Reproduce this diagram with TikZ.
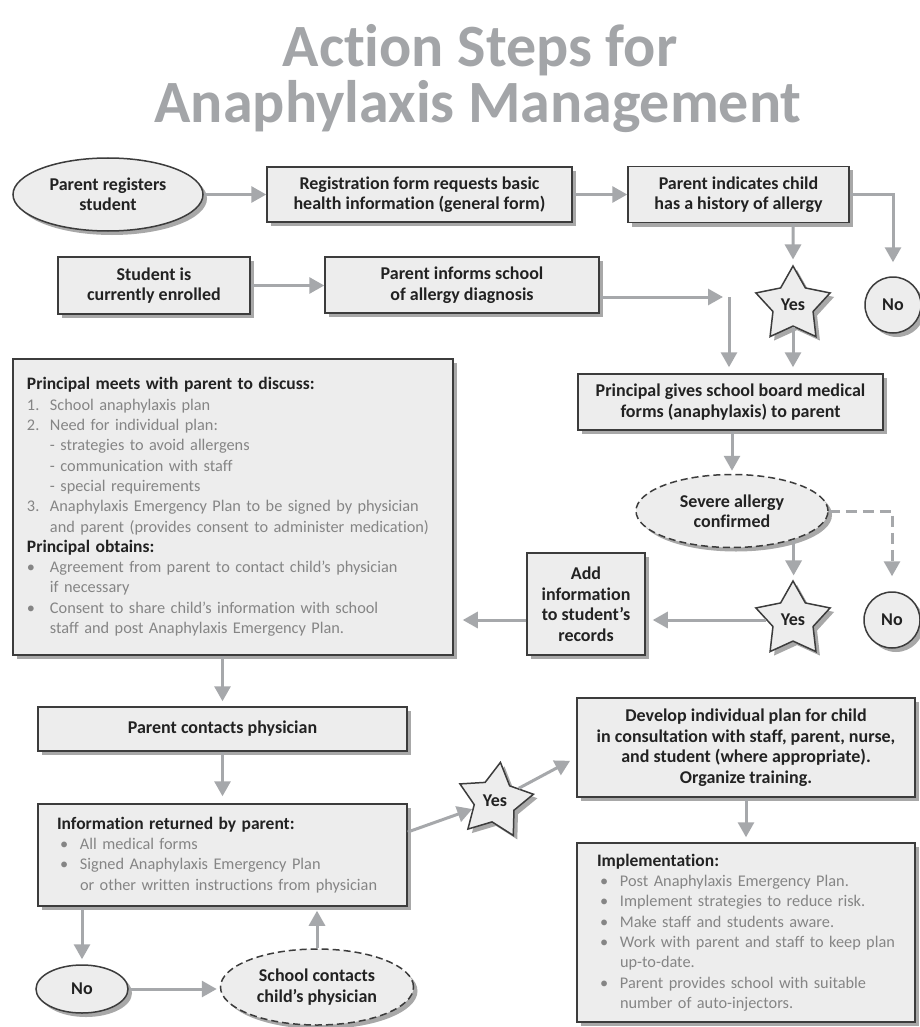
\documentclass[tikz,border=0pt]{standalone}
\usepackage{fontspec}
\setmainfont{Carlito}[Ligatures={NoCommon,NoContextual},Contextuals={NoAlternate},RawFeature={-liga;-clig;-calt}]
\usetikzlibrary{shapes.geometric,arrows.meta,shadows,calc}
\definecolor{boxfill}{HTML}{EDEDED}
\definecolor{boxline}{HTML}{3C3C3C}
\definecolor{arrcol}{HTML}{A6A8AB}
\definecolor{titlecol}{HTML}{A3A5A8}
\definecolor{lighttext}{HTML}{858585}
\definecolor{shadowcol}{HTML}{A8A8A8}
\definecolor{darktext}{HTML}{222222}
\newcommand{\boxhead}[1]{{\bfseries\fontsize{17.5}{20.3}\selectfont\color{darktext}#1}}
\newcommand{\lstitem}[2]{\makebox[23pt][l]{#1}#2}
\newcommand{\lstcont}[1]{\hspace*{23pt}#1}
\tikzset{
 shd/.style={drop shadow={shadow xshift=4pt,shadow yshift=-4pt,fill=shadowcol,opacity=1}},
 basenode/.style={draw=boxline,line width=1.5pt,fill=boxfill,shd,font=\bfseries\fontsize{18}{20.5}\selectfont,text=darktext,inner sep=0pt,align=center},
 box/.style={basenode,rectangle},
 oval/.style={basenode,ellipse},
 dashoval/.style={basenode,ellipse,dash pattern=on 7pt off 4pt},
 starnode/.style={basenode,star,star points=5,star point ratio=1.85,minimum size=78pt},
 circ/.style={basenode,circle,minimum size=56pt},
 listbox/.style={basenode,rectangle,align=left,font=\fontsize{16.3}{20.3}\selectfont,text=lighttext},
 arr/.style={draw=arrcol,line width=3pt,-{Triangle[length=15pt,width=16pt]}},
 dashedarr/.style={draw=arrcol,line width=3pt,dash pattern=on 11pt off 6pt,-{Triangle[length=15pt,width=16pt]}},
}
\begin{document}
\begin{tikzpicture}[x=1pt,y=-1pt]
\fill[white] (0,0) rectangle (920,1027);
\useasboundingbox (0,0) rectangle (920,1027);

% title
\node[font=\bfseries\fontsize{60}{60}\selectfont,text=titlecol,anchor=base,inner sep=0pt] (t1) at (480,67) {Action Steps for};
\node[font=\bfseries\fontsize{60}{60}\selectfont,text=titlecol,anchor=base,inner sep=0pt] (t2) at (478,123) {Anaphylaxis Management};

% row 1
\node[oval,minimum width=190pt,minimum height=73pt] (regE) at (108,194.5) {Parent registers\\student};
\node[box,minimum width=305pt,minimum height=55pt] (reg) at (419.5,194.5) {Registration form requests basic\\health information (general form)};
\node[box,minimum width=221pt,minimum height=56pt] (hist) at (738.5,194.5) {Parent indicates child\\has a history of allergy};

% row 2
\node[box,minimum width=192pt,minimum height=57pt] (enrolled) at (154,285.5) {Student is\\currently enrolled};
\node[box,minimum width=274pt,minimum height=56pt] (inform) at (462,285) {Parent informs school\\of allergy diagnosis};
\node[starnode] (yes1) at (793,305) {Yes};
\node[circ] (no1) at (893,305) {No};

% principal gives
\node[box,minimum width=305pt,minimum height=56pt] (pgives) at (730.5,402) {Principal gives school board medical\\forms (anaphylaxis) to parent};

% big box
\node[listbox,text width=412pt,inner xsep=14pt,minimum height=296pt] (big) at (233,507) {%
\boxhead{Principal meets with parent to discuss:}\\
\lstitem{1.}{School anaphylaxis plan}\\
\lstitem{2.}{Need for individual plan:}\\
\lstcont{- strategies to avoid allergens}\\
\lstcont{- communication with staff}\\
\lstcont{- special requirements}\\
\lstitem{3.}{Anaphylaxis Emergency Plan to be signed by physician}\\
\lstcont{and parent (provides consent to administer medication)}\\
\boxhead{Principal obtains:}\\
\lstitem{\textbullet}{Agreement from parent to contact child’s physician}\\
\lstcont{if necessary}\\
\lstitem{\textbullet}{Consent to share child’s information with school}\\
\lstcont{staff and post Anaphylaxis Emergency Plan.}};

% severe allergy
\node[dashoval,minimum width=192pt,minimum height=73pt] (severe) at (732,511) {Severe allergy\\confirmed};
\node[starnode] (yes2) at (793,620) {Yes};
\node[circ] (no2) at (892,620) {No};
\node[box,minimum width=118pt,minimum height=102pt] (add) at (586,604) {Add\\information\\to student’s\\records};

% lower left
\node[box,minimum width=369pt,minimum height=44pt] (contacts) at (222.5,729) {Parent contacts physician};
\node[listbox,text width=331pt,inner xsep=19pt,minimum height=102pt] (info) at (222.5,855) {%
\boxhead{Information returned by parent:}\\
\lstitem{\hspace*{3pt}\textbullet}{All medical forms}\\
\lstitem{\hspace*{3pt}\textbullet}{Signed Anaphylaxis Emergency Plan}\\
\lstcont{or other written instructions from physician}};
\node[oval,minimum width=92pt,minimum height=48pt] (noE) at (82,989) {No};
\node[dashoval,minimum width=193pt,minimum height=76pt] (school) at (317,987) {School contacts\\child’s physician};

% lower right
\node[starnode,shape border rotate=-8] (yes3) at (495,801) {Yes};
\node[box,minimum width=338pt,minimum height=99pt] (develop) at (746,747.5) {Develop individual plan for child\\in consultation with staff, parent, nurse,\\and student (where appropriate).\\Organize training.};
\node[listbox,text width=298pt,inner xsep=20pt,minimum height=179pt] (impl) at (746,932.5) {%
\boxhead{Implementation:}\\
\lstitem{\hspace*{3pt}\textbullet}{Post Anaphylaxis Emergency Plan.}\\
\lstitem{\hspace*{3pt}\textbullet}{Implement strategies to reduce risk.}\\
\lstitem{\hspace*{3pt}\textbullet}{Make staff and students aware.}\\
\lstitem{\hspace*{3pt}\textbullet}{Work with parent and staff to keep plan}\\
\lstcont{up-to-date.}\\
\lstitem{\hspace*{3pt}\textbullet}{Parent provides school with suitable}\\
\lstcont{number of auto-injectors.}};

% connectors
\coordinate (c1) at (723,297);
\coordinate (c2) at (729,297);
\draw[arr] (regE.east) -- (regE.east -| reg.west);
\draw[arr] (reg.east) -- (reg.east -| hist.west);
\draw[arr,shorten >=5pt] (hist.south -| yes1) -- (yes1.north);
\draw[arr,shorten >=14pt] (hist.east) -| (no1.north);
\draw[arr] (enrolled.east) -- (enrolled.east -| inform.west);
\draw[arr] (inform.east |- c1) -- (c1);
\draw[arr,shorten >=6pt] (c2) -- (c2 |- pgives.north);
\draw[arr,shorten >=6pt] (yes1.south) -- (yes1.south |- pgives.north);
\draw[arr,shorten >=3pt] (pgives.south -| severe.north) -- (severe.north);
\draw[dashedarr,shorten >=15pt] (severe.east) -| (no2.north);
\draw[arr,shorten >=4pt] (severe.-25) -- (severe.-25 |- yes2.north);
\draw[arr,shorten >=7pt] (yes2.west) -- (yes2.west -| add.east);
\draw[arr,shorten >=9pt] ([yshift=-16pt]add.west) -- ([yshift=-16pt]add.west -| big.east);
\draw[arr,shorten >=5pt] (big.south -| contacts.north) -- (contacts.north);
\draw[arr,shorten >=7pt] (contacts.south) -- (info.north);
\draw[arr,shorten >=5pt] (info.south -| noE.north) -- (noE.north);
\draw[arr,shorten >=3pt] (noE.east) -- (noE.east -| school.west);
\draw[arr,shorten >=4pt] (school.north) -- (school.north |- info.south);
\draw[arr] ([yshift=23pt]info.east) -- (yes3);
\draw[arr,shorten >=7pt] (yes3) -- ([yshift=-10pt]develop.west);
\draw[arr,shorten >=5pt] (develop.south) -- (impl.north);
\end{tikzpicture}
\end{document}
